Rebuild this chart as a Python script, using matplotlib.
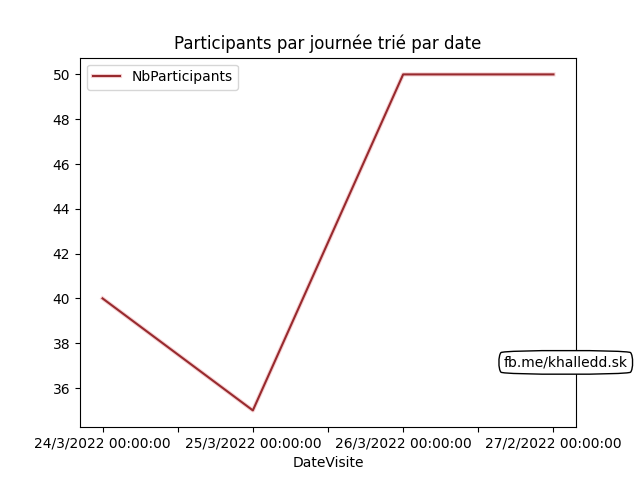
import numpy as np
import matplotlib
matplotlib.use('Agg')
import matplotlib.pyplot as plt
import matplotlib.patheffects as pe

# Données
dates = ['24/3/2022 00:00:00', '25/3/2022 00:00:00', '26/3/2022 00:00:00', '27/2/2022 00:00:00']
nb_participants = [40, 35, 50, 50]

fig, ax = plt.subplots(figsize=(6.4, 4.8), dpi=100)
x = np.arange(len(dates))
ax.plot(x, nb_participants, color='#982a2e', linewidth=1.5, label='NbParticipants',
        path_effects=[pe.Stroke(linewidth=3, foreground='#f6d3d5'), pe.Normal()])

ticks = np.arange(0, len(dates) - 0.5, 0.5)
labels = [dates[int(t)] if t == int(t) else '' for t in ticks]
ax.set_xticks(ticks)
ax.set_xticklabels(labels)
ax.set_xlabel('DateVisite')
ax.set_title('Participants par journée trié par date')
ax.legend(loc='upper left')

fig.text(0.884, 0.245, 'fb.me/khalledd.sk', ha='center', va='center', fontsize=10,
         bbox=dict(boxstyle='round4,pad=0.4', facecolor='white', edgecolor='black'))

plt.savefig('out.png')
